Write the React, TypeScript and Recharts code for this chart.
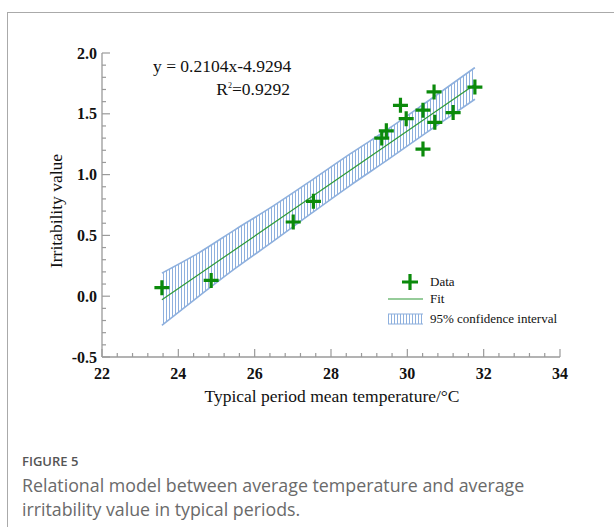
import React from 'react';
import { ComposedChart, XAxis, YAxis, Area, Line, Scatter } from 'recharts';

// observed points: typical period mean temperature (°C) vs irritability value
const tempX = [23.57, 24.86, 27.01, 27.54, 29.33, 29.45, 29.82, 29.97, 30.41, 30.41, 30.7, 30.72, 31.2, 31.77];
const irrY = [0.07, 0.13, 0.61, 0.78, 1.3, 1.36, 1.57, 1.46, 1.53, 1.21, 1.68, 1.43, 1.51, 1.72];

// fitted line ends, y = 0.2104x-4.9294
const fitX = [23.57, 31.77];
const fitY = [-0.03, 1.74];

// 95% confidence band, read at a few temperatures
const ciX = [23.57, 24.5, 25.5, 26.5, 27.5, 28.5, 29.5, 30.5, 31.77];
const ciLow = [-0.24, -0.01, 0.23, 0.455, 0.685, 0.91, 1.125, 1.345, 1.62];
const ciHigh = [0.19, 0.35, 0.55, 0.745, 0.955, 1.17, 1.375, 1.595, 1.88];

const xTicks = [
  22, 22.4, 22.8, 23.2, 23.6, 24, 24.4, 24.8, 25.2, 25.6, 26, 26.4, 26.8, 27.2, 27.6, 28, 28.4, 28.8, 29.2, 29.6, 30,
  30.4, 30.8, 31.2, 31.6, 32, 32.4, 32.8, 33.2, 33.6, 34,
];
const yTicks = [
  -0.5, -0.4, -0.3, -0.2, -0.1, 0, 0.1, 0.2, 0.3, 0.4, 0.5, 0.6, 0.7, 0.8, 0.9, 1, 1.1, 1.2, 1.3, 1.4, 1.5, 1.6, 1.7,
  1.8, 1.9, 2,
];
const xLabels = [22, 24, 26, 28, 30, 32, 34];
const yLabels = [-0.5, 0, 0.5, 1, 1.5, 2];

const GREEN = '#0b8a0b';
const FIT = '#2e9a36';
const CI = '#8eb0de';
const AXIS = '#9a9a9a';
const SERIF = '"Liberation Serif", "Times New Roman", serif';

const points = tempX.map((x, i) => ({ x, y: irrY[i] }));
const fitData = fitX.map((x, i) => ({ x, y: fitY[i] }));
const ciData = ciX.map((x, i) => ({ x, range: [ciLow[i], ciHigh[i]] }));

const isIn = (list: number[], v: number) => list.some((l) => Math.abs(l - v) < 1e-6);

function YTick(props: any) {
  const { x, y, payload } = props;
  const major = isIn(yLabels, payload.value);
  return (
    <g>
      <line x1={x} x2={x + (major ? 8 : 4)} y1={y} y2={y} stroke={AXIS} strokeWidth={1.2} />
      {major && (
        <text x={x - 5} y={y + 5.5} textAnchor="end" fontFamily={SERIF} fontWeight="bold" fontSize={16} fill="#111">
          {payload.value.toFixed(1)}
        </text>
      )}
    </g>
  );
}

function XTick(props: any) {
  const { x, y, payload } = props;
  const major = isIn(xLabels, payload.value);
  return (
    <g>
      <line x1={x} x2={x} y1={y} y2={y - (major ? 8 : 4)} stroke={AXIS} strokeWidth={1.2} />
      {major && (
        <text x={x} y={y + 22} textAnchor="middle" fontFamily={SERIF} fontWeight="bold" fontSize={16} fill="#111">
          {payload.value}
        </text>
      )}
    </g>
  );
}

function Cross(props: any) {
  const { cx, cy } = props;
  const r = 7.5;
  return (
    <path d={`M${cx - r},${cy}H${cx + r}M${cx},${cy - r}V${cy + r}`} stroke={GREEN} strokeWidth={3.2} fill="none" />
  );
}

export default function App() {
  return (
    <div style={{ position: 'absolute', left: 0, top: 0, width: 614, height: 527, background: '#fff', overflow: 'hidden' }}>
      <div
        style={{
          position: 'absolute',
          left: 7,
          top: 12,
          width: 700,
          height: 600,
          borderLeft: '1px solid #aaa',
          borderTop: '1px solid #aaa',
        }}
      />
      <div style={{ position: 'absolute', left: 0, top: 0 }}>
        <ComposedChart width={614} height={420} margin={{ top: 53, right: 54, bottom: 13, left: 0 }}>
          <defs>
            <pattern id="ciHatch" width={3} height={6} patternUnits="userSpaceOnUse">
              <line x1={1.5} x2={1.5} y1={0} y2={6} stroke={CI} strokeWidth={1} />
            </pattern>
          </defs>
          <XAxis
            type="number"
            dataKey="x"
            domain={[22, 34]}
            ticks={xTicks}
            interval={0}
            allowDataOverflow
            height={50}
            tickSize={0}
            tickMargin={0}
            tick={<XTick />}
            axisLine={{ stroke: AXIS, strokeWidth: 1.3 }}
            tickLine={false}
          />
          <YAxis
            type="number"
            domain={[-0.5, 2]}
            ticks={yTicks}
            interval={0}
            allowDataOverflow
            width={102}
            tickSize={0}
            tickMargin={0}
            tick={<YTick />}
            axisLine={{ stroke: AXIS, strokeWidth: 1.3 }}
            tickLine={false}
          />
          <Area
            data={ciData}
            dataKey="range"
            type="monotone"
            fill="url(#ciHatch)"
            fillOpacity={1}
            stroke={CI}
            strokeWidth={1.6}
            dot={false}
            activeDot={false}
            isAnimationActive={false}
          />
          <Line
            data={fitData}
            dataKey="y"
            type="linear"
            stroke={FIT}
            strokeWidth={1.2}
            dot={false}
            activeDot={false}
            isAnimationActive={false}
          />
          <Scatter data={points} dataKey="y" shape={<Cross />} isAnimationActive={false} />

          <text x={153} y={72} fontFamily={SERIF} fontSize={17.5} fill="#111">
            y = 0.2104x-4.9294
          </text>
          <text x={290} y={95} textAnchor="end" fontFamily={SERIF} fontSize={17.5} fill="#111">
            R<tspan dy={-7} fontSize={8}>2</tspan>
            <tspan dy={7}>=0.9292</tspan>
          </text>

          <text
            transform="translate(62,211) rotate(-90)"
            textAnchor="middle"
            fontFamily={SERIF}
            fontSize={17.5}
            fill="#111"
          >
            Irritability value
          </text>
          <text x={332} y={402} textAnchor="middle" fontFamily={SERIF} fontSize={17.5} fill="#111">
            Typical period mean temperature/°C
          </text>

          <g fontFamily={SERIF} fontSize={13} fill="#111">
            <path d="M402,282H418M410,274V290" stroke={GREEN} strokeWidth={3.2} fill="none" />
            <text x={430} y={286}>Data</text>
            <line x1={388} x2={423} y1={299} y2={299} stroke={FIT} strokeWidth={1.2} />
            <text x={430} y={303}>Fit</text>
            <rect x={388} y={314} width={35} height={10} fill="url(#ciHatch)" />
            <line x1={388} x2={423} y1={314} y2={314} stroke={CI} strokeWidth={1.2} />
            <line x1={388} x2={423} y1={324} y2={324} stroke={CI} strokeWidth={1.2} />
            <text x={430} y={323}>95% confidence interval</text>
          </g>
        </ComposedChart>
      </div>
      <div
        style={{
          position: 'absolute',
          left: 22,
          top: 452,
          fontFamily: '"Open Sans", sans-serif',
          fontSize: 13,
          fontWeight: 600,
          color: '#555',
          lineHeight: '18px',
        }}
      >
        FIGURE 5
      </div>
      <div
        style={{
          position: 'absolute',
          left: 22,
          top: 473,
          fontFamily: '"Open Sans", sans-serif',
          fontSize: 17.8,
          color: '#6a6a6a',
          lineHeight: '24px',
          whiteSpace: 'nowrap',
        }}
      >
        Relational model between average temperature and average
        <br />
        irritability value in typical periods.
      </div>
    </div>
  );
}
